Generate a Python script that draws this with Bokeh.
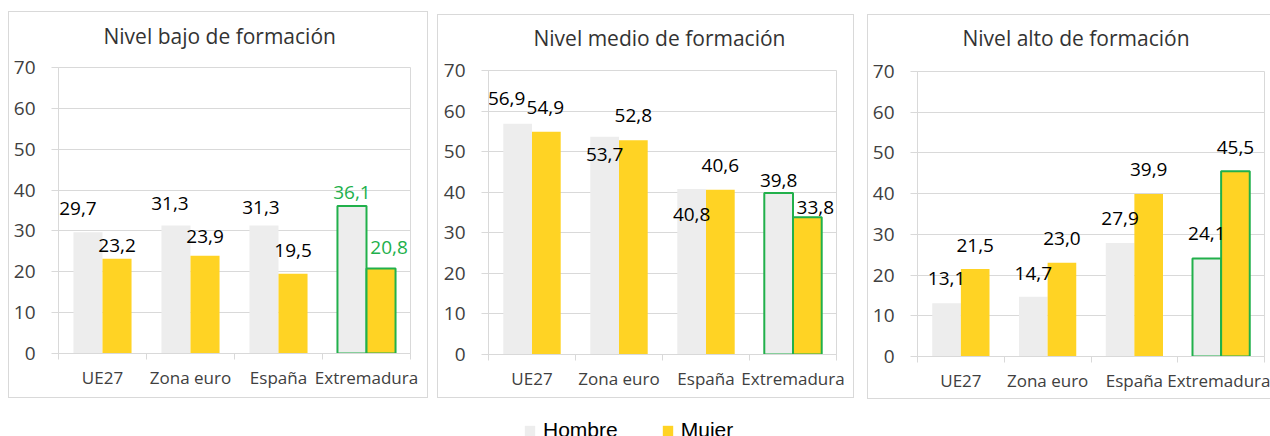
from bokeh.plotting import figure
from bokeh.models import (Range1d, FixedTicker, ColumnDataSource, Legend, LegendItem)
from bokeh.layouts import column, row
from bokeh.core.properties import value
from bokeh.embed import file_html
from bokeh.resources import INLINE

# ---------------- data ----------------
categories = ["UE27", "Zona euro", "España", "Extremadura"]
highlight = "Extremadura"
series_names = ["Hombre", "Mujer"]
titles = ["Nivel bajo de formación", "Nivel medio de formación", "Nivel alto de formación"]
hombre_bajo = [29.7, 31.3, 31.3, 36.1]
mujer_bajo = [23.2, 23.9, 19.5, 20.8]
hombre_medio = [56.9, 53.7, 40.8, 39.8]
mujer_medio = [54.9, 52.8, 40.6, 33.8]
hombre_alto = [13.1, 14.7, 27.9, 24.1]
mujer_alto = [21.5, 23.0, 39.9, 45.5]
y_ticks = [0, 10, 20, 30, 40, 50, 60, 70]

# ---------------- styles ----------------
GRAY = "#ededed"
YELLOW = "#ffd324"
GREEN = "#21b04b"
GRID = "#d9d9d9"
FONT = "Open Sans"

# label placement (pixel offsets from bar top / bar centre), as in the original
label_offsets = [
    dict(hdx=[-10, -6, -3, 0], hdy=[-24, -22, -18, -14],
         mdx=[0, 0, 0, 8], mdy=[-13, -19, -23, -21], green_labels=True),
    dict(hdx=[-11, 0, 0, 0], hdy=[-25, 18, 26, -13],
         mdx=[-1, 0, 0, 8], mdy=[-24, -25, -24, -10], green_labels=False),
    dict(hdx=[0, 0, 0, 0], hdy=[-25, -23, -24, -25],
         mdx=[0, 0, 0, 0], mdy=[-23, -24, -25, -24], green_labels=False),
]
# element size, css margin (top, right, bottom, left), frame borders, title placement,
# y of the top border line
panel_layout = [
    dict(w=420, h=398, margin=(0, 9, 2, 8), l=50, r=18, t=67, b=45, toff=45, tstand=32,
         top_line=11, right_edge=True),
    dict(w=417, h=398, margin=(0, 13, 2, 0), l=51, r=18, t=70, b=44, toff=45, tstand=34,
         top_line=14, right_edge=True),
    dict(w=403, h=399, margin=(0, 0, 1, 0), l=50, r=6, t=71, b=43, toff=45, tstand=36,
         top_line=14, right_edge=False),
]


def fmt(v):
    return f"{v:.1f}".replace(".", ",")


def make_panel(title, hombre, mujer, lay, offs):
    n = len(categories)
    tl = lay["top_line"]
    shadows = [f"inset 0 {tl}px 0 #ffffff", f"inset 0 {tl + 1}px 0 {GRID}",
               f"inset 1px 0 0 {GRID}", f"inset 0 -1px 0 {GRID}"]
    if lay["right_edge"]:
        shadows.append(f"inset -1px 0 0 {GRID}")
    p = figure(width=lay["w"], height=lay["h"], x_range=Range1d(0, n), y_range=Range1d(0, 70),
               output_backend="svg", toolbar_location=None, title=title,
               min_border_left=lay["l"], min_border_right=lay["r"],
               min_border_top=lay["t"], min_border_bottom=lay["b"],
               margin=lay["margin"], styles={"box-shadow": ", ".join(shadows)})
    try:
        p.frame_align = False   # keep each panel's own frame position
    except Exception:
        pass
    p.background_fill_color = "white"
    p.border_fill_alpha = 0
    p.outline_line_color = GRID

    # title
    p.title.align = "left"
    p.title.vertical_align = "top"
    p.title.text_font = FONT
    p.title.text_font_size = "21px"
    p.title.text_font_style = "normal"
    p.title.text_color = "#333333"
    p.title.offset = lay["toff"]
    p.title.standoff = lay["tstand"]

    centres = [i + 0.5 for i in range(n)]
    # axes
    yax = p.yaxis[0]
    yax.ticker = FixedTicker(ticks=y_ticks, minor_ticks=[])
    yax.axis_line_color = GRID
    yax.major_tick_line_color = GRID
    yax.major_tick_out = 7
    yax.major_tick_in = 0
    yax.minor_tick_out = 0
    yax.minor_tick_in = 0
    yax.major_label_text_font = FONT
    yax.major_label_text_font_size = "19px"
    yax.major_label_text_color = "#404040"
    yax.major_label_standoff = 16

    xax = p.xaxis[0]
    xax.ticker = FixedTicker(ticks=centres, minor_ticks=list(range(n + 1)))
    xax.axis_line_color = GRID
    xax.major_tick_line_color = None
    xax.major_tick_out = 0
    xax.major_tick_in = 0
    xax.minor_tick_line_color = GRID
    xax.minor_tick_out = 6
    xax.minor_tick_in = 0
    xax.major_label_overrides = {c: name for c, name in zip(centres, categories)}
    xax.major_label_text_font = FONT
    xax.major_label_text_font_size = "17px"
    xax.major_label_text_color = "#404040"
    xax.major_label_standoff = 6

    p.xgrid.visible = False
    p.ygrid.ticker = FixedTicker(ticks=y_ticks, minor_ticks=[])
    p.ygrid.grid_line_color = GRID

    bw = 0.33
    hl = [1.0 if c == highlight else 0.0 for c in categories]
    src_h = ColumnDataSource(dict(x=[c - bw / 2 for c in centres], top=hombre, la=hl))
    src_m = ColumnDataSource(dict(x=[c + bw / 2 for c in centres], top=mujer, la=hl))
    p.vbar(x="x", top="top", bottom=0, width=bw, source=src_h, fill_color=GRAY,
           line_color=GREEN, line_width=2, line_alpha="la")
    p.vbar(x="x", top="top", bottom=0, width=bw, source=src_m, fill_color=YELLOW,
           line_color=GREEN, line_width=2, line_alpha="la")

    # data labels
    tcol = [GREEN if (c == highlight and offs["green_labels"]) else "#000000" for c in categories]
    lab_h = ColumnDataSource(dict(x=src_h.data["x"], y=hombre, t=[fmt(v) for v in hombre],
                                  dx=offs["hdx"], dy=offs["hdy"], c=tcol))
    lab_m = ColumnDataSource(dict(x=src_m.data["x"], y=mujer, t=[fmt(v) for v in mujer],
                                  dx=offs["mdx"], dy=offs["mdy"], c=tcol))
    for s in (lab_h, lab_m):
        p.text(x="x", y="y", text="t", x_offset="dx", y_offset="dy", source=s,
               text_align="center", text_baseline="middle", text_font=value(FONT),
               text_font_size="19px", text_color="c")
    return p


panels = []
data_pairs = [(hombre_bajo, mujer_bajo), (hombre_medio, mujer_medio), (hombre_alto, mujer_alto)]
for ttl, (hv, mv), lay, offs in zip(titles, data_pairs, panel_layout, label_offsets):
    panels.append(make_panel(ttl, hv, mv, lay, offs))

# legend strip
leg = figure(width=1270, height=36, x_range=Range1d(0, 1), y_range=Range1d(0, 1),
             output_backend="svg", toolbar_location=None,
             min_border_left=0, min_border_right=0, min_border_top=0, min_border_bottom=0)
try:
    leg.frame_align = False
except Exception:
    pass
leg.axis.visible = False
leg.grid.visible = False
leg.outline_line_color = None
leg.border_fill_alpha = 0
leg.background_fill_alpha = 0
# legend swatches: zero-height placeholders, only their legend entries are seen
sw_h = ColumnDataSource(dict(x=[0.5], top=[0]))
sw_m = ColumnDataSource(dict(x=[0.5], top=[0]))
r1 = leg.vbar(x="x", top="top", bottom=0, width=0.01, source=sw_h, fill_color=GRAY, line_alpha=0)
r2 = leg.vbar(x="x", top="top", bottom=0, width=0.01, source=sw_m, fill_color=YELLOW, line_alpha=0)
legend = Legend(items=[LegendItem(label=series_names[0], renderers=[r1]),
                       LegendItem(label=series_names[1], renderers=[r2])],
                orientation="horizontal", location=(523, -6),
                glyph_width=13, glyph_height=13, label_standoff=7, spacing=43,
                padding=0, margin=0, border_line_alpha=0, background_fill_alpha=0,
                label_text_font="Liberation Sans", label_text_font_size="21px",
                label_text_color="#000000")
leg.add_layout(legend)

layout = column(row(*panels), leg)
open("out.html", "w").write(file_html(layout, INLINE))
